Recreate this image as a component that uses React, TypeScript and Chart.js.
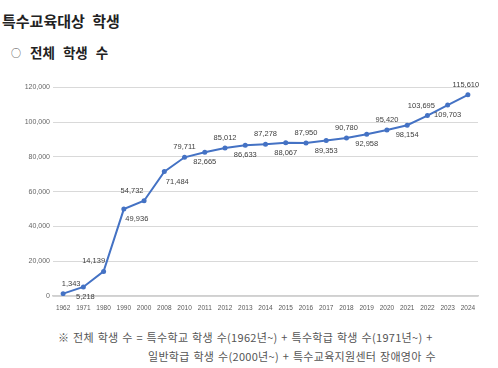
import React, { useEffect, useRef } from "react";
import { Chart, registerables } from "chart.js";

Chart.register(...registerables);

const years = ["1962","1971","1980","1990","2000","2008","2010","2011","2012","2013","2014","2015","2016","2017","2018","2019","2020","2021","2022","2023","2024"];
const students = [1343,5218,14139,49936,54732,71484,79711,82665,85012,86633,87278,88067,87950,89353,90780,92958,95420,98154,103695,109703,115610];
const yTicks = [0,20000,40000,60000,80000,100000,120000];

const title = "특수교육대상 학생";
const subtitle = "전체 학생 수";
const note1 = "※ 전체 학생 수 = 특수학교 학생 수(1962년~) + 특수학급 학생 수(1971년~) +";
const note2 = "일반학급 학생 수(2000년~) + 특수교육지원센터 장애영아 수";

const fmt = (v: number) => v.toLocaleString("en-US");

// horizontal nudges for labels that would sit on steep segments (style only)
const labelNudge: Record<number, number> = { 0: 8, 1: 2, 2: -10, 3: 13, 4: -12, 5: 13, 18: -6, 20: -2 };

const labelPlugin = {
  id: "pointLabels",
  afterDatasetsDraw(chart: any) {
    const ctx = chart.ctx;
    const meta = chart.getDatasetMeta(0);
    ctx.save();
    ctx.font = "7.5px 'Liberation Sans', Arial, sans-serif";
    ctx.fillStyle = "#404040";
    ctx.textAlign = "center";
    ctx.textBaseline = "middle";
    meta.data.forEach((pt: any, i: number) => {
      const v = students[i];
      const above = i % 2 === 0;
      const dx = labelNudge[i] || 0;
      ctx.fillText(fmt(v), pt.x + dx, pt.y + (above ? -10 : 10));
    });
    ctx.restore();
  },
};

export default function App() {
  const ref = useRef<HTMLCanvasElement | null>(null);
  useEffect(() => {
    if (!ref.current) return;
    const chart = new Chart(ref.current, {
      type: "line",
      data: {
        labels: years,
        datasets: [
          {
            data: students,
            borderColor: "#4472C4",
            backgroundColor: "#4472C4",
            borderWidth: 2,
            pointRadius: 2.5,
            pointBackgroundColor: "#4472C4",
            pointBorderWidth: 0,
            tension: 0,
          },
        ],
      },
      options: {
        animation: false,
        responsive: false,
        maintainAspectRatio: false,
        layout: { padding: { top: 7, right: 12, left: 0, bottom: 0 } },
        plugins: { legend: { display: false }, tooltip: { enabled: false } },
        scales: {
          x: {
            offset: true,
            grid: { display: false, drawTicks: false },
            border: { display: true, color: "#d0d0d0", width: 1.5 },
            ticks: {
              color: "#595959",
              font: { size: 6.5, family: "'Liberation Sans', Arial, sans-serif" },
              padding: 8,
              maxRotation: 0,
              autoSkip: false,
            },
            afterFit: (s: any) => { s.height = 24; },
          },
          y: {
            min: 0,
            max: 120000,
            afterBuildTicks: (s: any) => { s.ticks = yTicks.map((v) => ({ value: v })); },
            grid: { color: "#d9d9d9", drawTicks: false, lineWidth: 1 },
            border: { display: false },
            ticks: {
              color: "#666",
              font: { size: 7, family: "'Liberation Sans', Arial, sans-serif" },
              padding: 3,
              callback: (v: any) => fmt(Number(v)),
            },
            afterFit: (s: any) => { s.width = 53; },
          },
        },
      },
      plugins: [labelPlugin],
    });
    return () => chart.destroy();
  }, []);

  const noteStyle: React.CSSProperties = {
    position: "absolute",
    fontFamily: "'Noto Sans CJK KR', sans-serif",
    fontSize: 11,
    letterSpacing: 0.3,
    wordSpacing: 1,
    color: "#555",
    lineHeight: "16px",
    whiteSpace: "nowrap",
  };

  return (
    <div style={{ position: "absolute", left: 0, top: 0, width: 498, height: 368, background: "#fff", overflow: "hidden" }}>
      <div style={{ position: "absolute", left: 2, top: 10, fontFamily: "'Noto Sans CJK KR', sans-serif", fontWeight: 700, fontSize: 15, color: "#222", lineHeight: "22px", whiteSpace: "nowrap", wordSpacing: 4 }}>
        {title}
      </div>
      <div style={{ position: "absolute", left: 11, top: 42, fontFamily: "'Noto Sans CJK KR', sans-serif", fontWeight: 700, fontSize: 13.5, color: "#222", lineHeight: "20px", whiteSpace: "nowrap", wordSpacing: 5 }}>
        <span style={{ fontWeight: 400, fontSize: 10, color: "#444", marginRight: 9, position: "relative", top: -1 }}>○</span>{subtitle}
      </div>
      <canvas ref={ref} width={490} height={240} style={{ position: "absolute", left: 0, top: 80, width: 490, height: 240 }} />
      <div style={{ ...noteStyle, left: 58, top: 329 }}>{note1}</div>
      <div style={{ ...noteStyle, left: 148, top: 348 }}>{note2}</div>
    </div>
  );
}
